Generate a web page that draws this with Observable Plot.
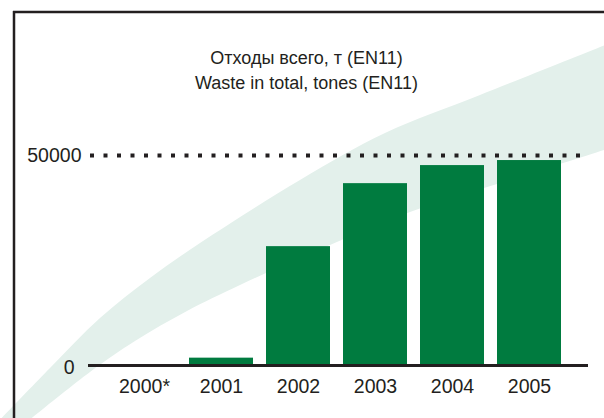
<!DOCTYPE html>
<html>
<head>
<meta charset="utf-8">
<script src="https://cdn.jsdelivr.net/npm/d3@7"></script>
<script src="https://cdn.jsdelivr.net/npm/@observablehq/plot@0.6"></script>
<style>
  html, body { margin: 0; padding: 0; background: #ffffff; }
  #chart svg { display: block; }
</style>
</head>
<body>
<div id="chart"></div>
<script>
// ---- data ----
const years = ["2000*", "2001", "2002", "2003", "2004", "2005"];
const waste = [0, 1750, 28300, 43300, 47600, 48800];
const yTickTop = [50000];
const yTickZero = [0];
const titleLines = ["Отходы всего, т (EN11)", "Waste in total, tones (EN11)"];

const rows = years.map((year, i) => ({ year, value: waste[i] }));

const FONT = '"Liberation Sans", Arial, sans-serif';
const INK = "#231f20";
const GREEN = "#007b3f";
const MINT = "#e3f0eb";
const TICK_SIZE = 19.5;

// decorative background swoosh and frame lines
function decor(index, scales, values, dims) {
  const g = d3.create("svg:g");
  const upper = [[-6,426],[50,368],[100,318],[150,278],[200,243],[300,180],[385,133],[480,95],[610,43]];
  const lower = [[610,148],[497,184],[410,212],[330,245],[240,285],[187,311],[135,341],[90,372],[22,426]];
  const line = d3.line().curve(d3.curveCatmullRom);
  const d = line(upper) + "L" + line(lower).slice(1) + "Z";
  g.append("path").attr("d", d).attr("fill", MINT);
  g.append("line").attr("x1", 13).attr("x2", dims.width).attr("y1", 12).attr("y2", 12)
    .attr("stroke", INK).attr("stroke-width", 2.5);
  g.append("line").attr("x1", 14).attr("x2", 14).attr("y1", 11).attr("y2", dims.height)
    .attr("stroke", INK).attr("stroke-width", 2.5);
  return g.node();
}

const chart = Plot.plot({
  width: 604,
  height: 418,
  marginLeft: 88,
  marginRight: 16,
  marginTop: 155,
  marginBottom: 53,
  style: { fontFamily: FONT, fontSize: TICK_SIZE + "px", color: INK, background: "#ffffff", overflow: "visible" },
  x: { domain: years, paddingInner: 0.1715, paddingOuter: 0.322, align: 0.477, axis: null },
  y: { domain: [0, 50000], axis: null },
  marks: [
    decor,
    Plot.ruleY(yTickTop, { stroke: INK, strokeWidth: 4, strokeDasharray: "4 9.5", strokeDashoffset: -2 }),
    Plot.barY(rows, { x: "year", y: "value", fill: GREEN }),
    Plot.ruleY(yTickZero, { stroke: INK, strokeWidth: 3 }),
    Plot.axisX({ tickSize: 0, tickPadding: 14, fontSize: TICK_SIZE, fill: INK, label: null }),
    Plot.axisY({ ticks: yTickTop, tickSize: 0, tickPadding: 7, tickFormat: d => String(d), fontSize: TICK_SIZE, fill: INK, label: null }),
    Plot.axisY({ ticks: yTickZero, tickSize: 0, tickPadding: 14, tickFormat: d => String(d), fontSize: TICK_SIZE, fill: INK, dy: 2, label: null }),
    Plot.text([titleLines.join("\n")], {
      frameAnchor: "top", dx: -32, dy: -109, lineAnchor: "top",
      lineHeight: 1.39, fontSize: 18, fill: INK, textAnchor: "middle"
    })
  ]
});

document.getElementById("chart").appendChild(chart);
</script>
</body>
</html>
